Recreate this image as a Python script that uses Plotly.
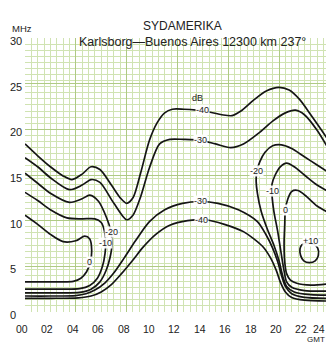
import plotly.graph_objects as go

# ---------------- data (hours GMT, frequency MHz) ----------------
X_TICK_HOURS = [0, 2, 4, 6, 8, 10, 12, 14, 16, 18, 20, 22, 24]
X_TICK_TEXT = ["00", "02", "04", "06", "08", "10", "12", "14", "16", "18", "20", "22", "24"]
Y_TICK_VALUES = [0, 5, 10, 15, 20, 25, 30]
Y_TICK_TEXT = ["0", "5", "10", "15", "20", "25", "30"]

# -40 dB, upper branch
M40U_H = [0, 1, 2, 3, 3.7, 4.5, 5.2, 5.9, 6.8, 7.5, 8.0, 8.5, 9.1, 9.8, 10.4, 11.0, 11.6, 12.5, 13.5, 14.5, 15.5, 16.3, 17.0, 18.0, 19.0, 20.0, 20.8, 21.6, 22.5, 23.3, 24]
M40U_F = [18.4, 17.1, 15.9, 14.9, 14.5, 15.1, 15.9, 15.6, 13.9, 12.5, 11.9, 12.5, 15.2, 18.8, 20.7, 21.8, 22.2, 22.2, 22.1, 21.9, 21.6, 21.5, 22.0, 23.2, 24.2, 24.6, 24.3, 23.3, 21.6, 20.0, 18.6]
# -30 dB, upper branch
M30U_H = [0, 1, 2, 3.5, 4.5, 5.2, 5.9, 7.0, 8.0, 8.5, 9.1, 9.8, 10.6, 11.4, 12.5, 13.8, 15.0, 16.2, 17.2, 18.5, 19.5, 20.5, 21.3, 22.0, 23.0, 24]
M30U_F = [16.9, 15.9, 14.7, 13.4, 13.9, 14.5, 14.2, 11.9, 10.1, 10.6, 12.6, 15.8, 18.4, 18.9, 18.9, 18.8, 18.4, 18.0, 18.4, 19.7, 20.9, 21.8, 22.1, 21.6, 19.9, 17.6]
# -20 dB, night loop (left) and evening loop (right)
M20L_H = [0, 1, 2, 3.5, 4.5, 5.1, 5.8, 6.4, 6.75, 6.85, 6.7, 6.4, 5.9, 5.2, 4.3, 2.5, 0]
M20L_F = [15.2, 14.1, 13.0, 12.0, 12.4, 12.8, 12.1, 10.4, 8.9, 7.4, 6.0, 4.6, 3.3, 2.5, 2.15, 2.1, 2.1]
M20R_H = [24, 23, 22, 21, 20.2, 19.5, 18.9, 18.5, 18.25, 18.2, 18.3, 18.6, 19.1, 19.6, 20.0, 20.3, 20.6, 21.2, 22.5, 24]
M20R_F = [15.2, 16.1, 17.0, 17.9, 18.3, 18.2, 17.5, 16.5, 15.4, 14.3, 13.0, 11.0, 9.0, 7.3, 5.6, 3.9, 2.8, 2.2, 1.9, 1.85]
# -10 dB
M10L_H = [0, 1, 2, 3.3, 4.5, 5.5, 6.0, 6.25, 6.35, 6.3, 6.1, 5.7, 5.1, 4.3, 2.5, 0]
M10L_F = [13.1, 12.2, 11.2, 10.3, 10.2, 10.2, 9.8, 8.9, 7.6, 6.4, 5.0, 3.7, 2.9, 2.55, 2.5, 2.5]
M10R_H = [24, 23, 22, 21.2, 20.6, 20.1, 19.7, 19.45, 19.45, 19.6, 19.9, 20.15, 20.4, 20.6, 21.0, 22.0, 24]
M10R_F = [13.1, 13.9, 15.0, 15.9, 16.3, 15.9, 15.0, 14.0, 12.8, 11.0, 8.8, 6.6, 4.5, 3.3, 2.7, 2.35, 2.3]
# 0 dB
P0L_H = [0, 1, 2, 3, 4, 4.7, 5.1, 5.25, 5.15, 4.85, 4.4, 3.8, 2.5, 0]
P0L_F = [10.6, 9.6, 8.5, 7.7, 7.8, 8.3, 8.0, 6.8, 5.5, 4.4, 3.7, 3.35, 3.3, 3.3]
P0R_H = [24, 23, 22.2, 21.5, 21.0, 20.7, 20.5, 20.45, 20.4, 20.45, 20.6, 20.9, 21.4, 22.5, 24]
P0R_F = [10.8, 11.6, 12.6, 13.3, 13.2, 12.4, 11.2, 9.5, 7.5, 5.5, 4.2, 3.5, 3.15, 2.95, 3.1]
# +10 dB island
P10_H = [21.65, 21.8, 22.2, 22.7, 23.05, 23.1, 22.85, 22.4, 21.95, 21.7, 21.65]
P10_F = [6.9, 7.35, 7.55, 7.45, 7.0, 6.2, 5.6, 5.4, 5.6, 6.2, 6.9]
# -30 dB, lower branch
M30L_H = [0, 2, 4, 4.8, 5.5, 6.3, 7.0, 7.8, 8.7, 9.8, 11.0, 12.4, 13.8, 15.2, 16.8, 18.3, 19.0, 19.5, 19.9, 20.2, 20.5, 21.0, 22.0, 24]
M30L_F = [1.75, 1.75, 1.8, 2.0, 2.4, 3.2, 4.3, 5.9, 7.8, 9.9, 11.2, 11.9, 12.1, 11.9, 11.2, 9.9, 8.4, 7.0, 5.5, 4.0, 2.8, 2.0, 1.6, 1.5]
# -40 dB, lower branch
M40L_H = [0, 2, 4.2, 5.2, 6.0, 6.8, 7.6, 8.5, 9.3, 10.3, 11.4, 12.8, 14.2, 15.7, 17.2, 18.7, 19.3, 19.8, 20.1, 20.5, 21.0, 22.0, 24]
M40L_F = [1.5, 1.5, 1.55, 1.75, 2.2, 3.0, 4.2, 5.7, 7.1, 8.5, 9.5, 10.0, 10.1, 9.6, 8.8, 7.2, 6.0, 4.5, 3.3, 2.2, 1.6, 1.3, 1.2]

# contour labels
LABEL_TEXT = ["dB", "-40", "-30", "-30", "-40", "-20", "-10", "0", "+10", "-20", "-10", "0"]
LABEL_H = [13.6, 14.0, 13.8, 13.8, 13.9, 18.25, 19.45, 20.5, 22.5, 6.8, 6.35, 5.1]
LABEL_F = [23.4, 22.1, 18.8, 12.1, 10.1, 15.4, 13.2, 11.2, 7.8, 8.8, 7.6, 5.5]

TITLE = "SYDAMERIKA"
SUBTITLE = "Karlsborg\u2014Buenos Aires 12300 km 237\u00b0"

# ---------------- figure ----------------
FONT = "Liberation Sans, Arial, sans-serif"
LINE = dict(color="#151515", width=1.7, shape="spline", smoothing=0.8)

fig = go.Figure()
branches = [
    (M40U_H, M40U_F), (M30U_H, M30U_F), (M20L_H, M20L_F), (M20R_H, M20R_F),
    (M10L_H, M10L_F), (M10R_H, M10R_F), (P0L_H, P0L_F), (P0R_H, P0R_F),
    (P10_H, P10_F), (M30L_H, M30L_F), (M40L_H, M40L_F),
]
for hx, fy in branches:
    fig.add_trace(go.Scatter(x=hx, y=fy, mode="lines", line=LINE,
                             hoverinfo="skip", showlegend=False))

W, H = 326, 345
ML, MR, MT, MB = 25, 0, 38, 33
plot_w = W - ML - MR
PX_PER_H = 12.7
xmax = plot_w / PX_PER_H
ph = H - MT - MB


def px(p):
    return (p - ML) / plot_w


def py(p):
    return (H - MB - p) / ph


annotations = []
for t, hx, fy in zip(LABEL_TEXT, LABEL_H, LABEL_F):
    annotations.append(dict(x=hx, y=fy, xref="x", yref="y", text=t, showarrow=False,
                            font=dict(family=FONT, size=9, color="#222"),
                            bgcolor="rgba(255,255,255,0.92)" if t != "dB" else "rgba(0,0,0,0)",
                            borderpad=0))
for hx, t in zip(X_TICK_HOURS, X_TICK_TEXT):
    if hx <= xmax:
        annotations.append(dict(x=hx, y=0, xref="x", yref="paper", text=t, showarrow=False,
                                yanchor="top", yshift=-10, xshift=-3, borderpad=0,
                                font=dict(family=FONT, size=10.5, color="#222")))
    else:
        annotations.append(dict(x=1, y=0, xref="paper", yref="paper", text=t, showarrow=False,
                                xanchor="right", yanchor="top", yshift=-10, borderpad=0,
                                font=dict(family=FONT, size=10.5, color="#222")))
for v, t in zip(Y_TICK_VALUES, Y_TICK_TEXT):
    annotations.append(dict(x=px(9), y=v, xref="paper", yref="y", text=t, borderpad=0,
                            showarrow=False, xanchor="left", yshift=-3,
                            font=dict(family=FONT, size=11, color="#222")))
annotations += [
    dict(x=px(182), y=py(16.5), xref="paper", yref="paper", text=TITLE,
         showarrow=False, font=dict(family=FONT, size=12, color="#222")),
    dict(x=px(192), y=py(33), xref="paper", yref="paper", text=SUBTITLE,
         showarrow=False, font=dict(family=FONT, size=12.5, color="#222")),
    dict(x=px(11), y=py(22), xref="paper", yref="paper", text="MHz", borderpad=0,
         xanchor="left", showarrow=False, font=dict(family=FONT, size=9.5, color="#222")),
    dict(x=1, y=py(345), xref="paper", yref="paper", text="GMT", borderpad=0,
         xanchor="right", yanchor="bottom", showarrow=False,
         font=dict(family=FONT, size=8, color="#222")),
]

MINOR_C = "#d0e3b2"
MAJOR_C = "#afca84"
fig.update_layout(
    width=W, height=H,
    margin=dict(l=ML, r=MR, t=MT, b=MB, pad=0),
    paper_bgcolor="white", plot_bgcolor="white",
    annotations=annotations,
    xaxis=dict(range=[0, xmax], dtick=4, tick0=0, showgrid=True, gridcolor=MAJOR_C,
               gridwidth=1, zeroline=False, showticklabels=False, ticks="",
               minor=dict(dtick=0.5, tick0=0, showgrid=True, gridcolor=MINOR_C, gridwidth=1),
               fixedrange=True),
    yaxis=dict(range=[0, 30], dtick=5, tick0=0, showgrid=True, gridcolor=MAJOR_C,
               gridwidth=1, zeroline=False, showticklabels=False, ticks="",
               minor=dict(dtick=2 / 3, tick0=0, showgrid=True, gridcolor=MINOR_C, gridwidth=1),
               fixedrange=True),
)
fig.write_html("out.html", config={"displayModeBar": False},
               post_script="document.body.style.margin='0px';")
